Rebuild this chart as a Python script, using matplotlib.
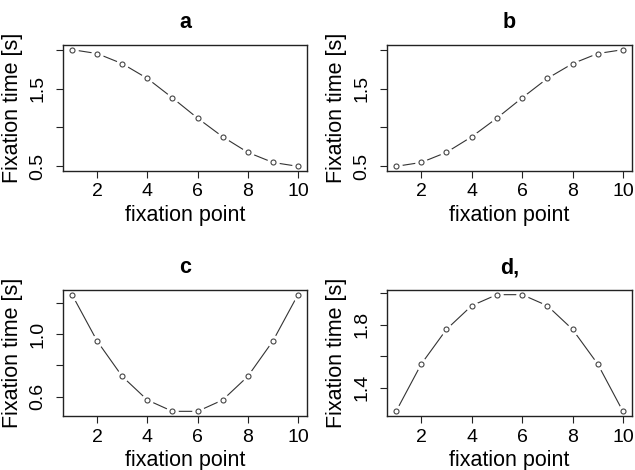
import matplotlib
matplotlib.use("Agg")
import matplotlib.pyplot as plt

plt.rcParams['font.family'] = ['Liberation Sans', 'DejaVu Sans']

x = [1, 2, 3, 4, 5, 6, 7, 8, 9, 10]
ya = [2.00, 1.95, 1.82, 1.63, 1.38, 1.12, 0.88, 0.68, 0.55, 0.50]
yb = [0.50, 0.55, 0.68, 0.88, 1.12, 1.38, 1.63, 1.82, 1.95, 2.00]
yc = [1.25, 0.955, 0.73, 0.58, 0.508, 0.508, 0.58, 0.73, 0.955, 1.25]
yd = [1.25, 1.55, 1.77, 1.92, 1.99, 1.99, 1.92, 1.77, 1.55, 1.25]

titles = ["a", "b", "c", "d,"]
xticks = [2, 4, 6, 8, 10]
yticks_ab = [0.5, 1.0, 1.5, 2.0]
ylabels_ab = ["0.5", "", "1.5", ""]
yticks_c = [0.6, 0.8, 1.0, 1.2]
ylabels_c = ["0.6", "", "1.0", ""]
yticks_d = [1.4, 1.6, 1.8, 2.0]
ylabels_d = ["1.4", "", "1.8", ""]

W, H = 635, 470
fig = plt.figure(figsize=(W / 100, H / 100), dpi=100)

panels = [
    (63, 45, 244, 126, ya, yticks_ab, ylabels_ab),
    (387, 45, 245, 126, yb, yticks_ab, ylabels_ab),
    (63, 290, 244, 126, yc, yticks_c, ylabels_c),
    (387, 290, 245, 126, yd, yticks_d, ylabels_d),
]

FT = 14
FL = 15.5
for (l, t, w, h, y, yt, yl), title in zip(panels, titles):
    ax = fig.add_axes([l / W, 1 - (t + h) / H, w / W, h / H])
    ax.plot(x, y, color='#333333', lw=0.8, zorder=1)
    ax.plot(x, y, ls='none', marker='o', ms=8, mfc='white', mec='white', zorder=2)
    ax.plot(x, y, ls='none', marker='o', ms=3.6, mfc='white', mec='#444444', mew=0.8, zorder=3)
    rng = max(y) - min(y)
    ax.set_ylim(min(y) - 0.04 * rng, max(y) + 0.04 * rng)
    ax.set_xlim(1 - 0.36, 10 + 0.36)
    ax.set_xticks(xticks)
    ax.set_xticklabels([str(v) for v in xticks])
    ax.set_yticks(yt)
    ax.set_yticklabels(yl, rotation=90, va='center')
    ax.tick_params(axis='both', length=5, width=0.8, labelsize=FT, color='#222222')
    ax.tick_params(axis='x', pad=4)
    ax.tick_params(axis='y', pad=7)
    for s in ax.spines.values():
        s.set_linewidth(1.0)
        s.set_color('#222222')
    ax.set_title(title, fontsize=FL, fontweight='bold', pad=12)
    ax.set_xlabel("fixation point", fontsize=FL)
    ax.xaxis.set_label_coords(0.5, -34 / h)
    ax.set_ylabel("Fixation time [s]", fontsize=FL)
    ax.yaxis.set_label_coords(-40 / w, 0.5)

fig.savefig("out.png", dpi=100)
